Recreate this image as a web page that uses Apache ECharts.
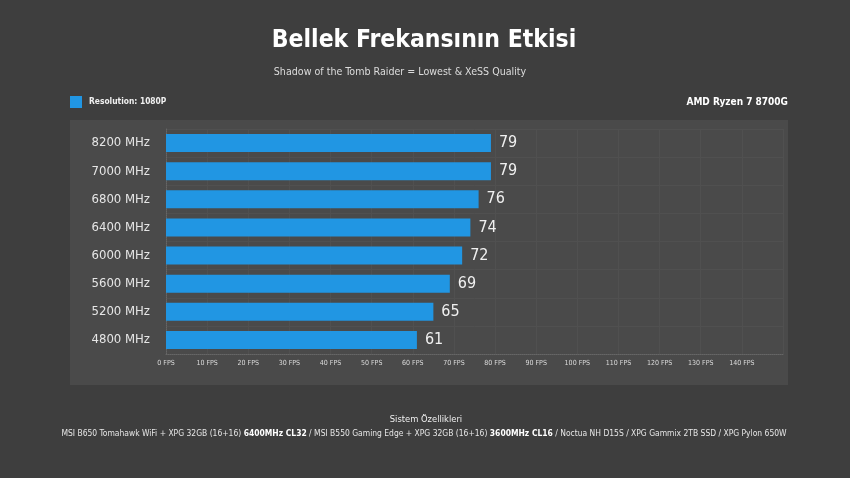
<!DOCTYPE html>
<html><head><meta charset="utf-8">
<script src="https://cdn.jsdelivr.net/npm/echarts@6/dist/echarts.min.js"></script>
<style>html,body{margin:0;padding:0;background:#3d3d3d;}#c{width:850px;height:478px;}</style>
</head><body><div id="c"></div>
<script>
const categories = ['8200 MHz','7000 MHz','6800 MHz','6400 MHz','6000 MHz','5600 MHz','5200 MHz','4800 MHz'];
const fpsValues = [79, 79, 76, 74, 72, 69, 65, 61];
const seriesName = 'Resolution: 1080P';
const titleText = 'Bellek Frekansının Etkisi';
const subtitleText = 'Shadow of the Tomb Raider = Lowest & XeSS Quality';
const cpuText = 'AMD Ryzen 7 8700G';
const specsTitle = 'Sistem Özellikleri';

const NARROW = '"Liberation Sans Narrow","DejaVu Sans Condensed","Roboto",sans-serif';
const chart = echarts.init(document.getElementById('c'));
chart.setOption({
  backgroundColor: '#3e3e3e',
  animation: false,
  graphic: [
    {type:'rect', shape:{x:70,y:120,width:718,height:265}, style:{fill:'#4a4a4a'}, z:-10},
    {type:'rect', shape:{x:70,y:96,width:12,height:12}, style:{fill:'#2196e3'}},
    {type:'text', x:89, y:102, style:{text:seriesName, fill:'#f0f0f0', font:'bold 8.4px '+NARROW, textVerticalAlign:'middle'}},
    {type:'text', x:788, y:102, style:{text:cpuText, fill:'#ffffff', font:'bold 10px '+NARROW, textAlign:'right', textVerticalAlign:'middle'}},
    {type:'text', x:424, y:41, style:{text:titleText, fill:'#ffffff', font:'bold 24.5px '+NARROW, textAlign:'center', textVerticalAlign:'middle'}},
    {type:'text', x:400, y:72, style:{text:subtitleText, fill:'#dcdcdc', font:'10.6px '+NARROW, textAlign:'center', textVerticalAlign:'middle'}},
    {type:'text', x:426, y:420, style:{text:specsTitle, fill:'#f0f0f0', font:'9.3px '+NARROW, textAlign:'center', textVerticalAlign:'middle'}},
    {type:'text', x:424, y:434, style:{
      text:'{n|MSI B650 Tomahawk WiFi + XPG 32GB (16+16) }{b|6400MHz CL32}{n| / MSI B550 Gaming Edge + XPG 32GB (16+16) }{b|3600MHz CL16}{n| / Noctua NH D15S / XPG Gammix 2TB SSD / XPG Pylon 650W}',
      textAlign:'center', textVerticalAlign:'middle',
      rich:{n:{fill:'#e6e6e6', font:'8.45px '+NARROW}, b:{fill:'#ffffff', font:'bold 8.45px '+NARROW}}
    }}
  ],
  grid: {left:166, right:67, top:129, bottom:124, containLabel:false},
  xAxis: {
    type:'value', min:0, max:150, interval:10,
    axisLine:{show:true, lineStyle:{color:'#666666', type:'dotted'}},
    axisTick:{show:false},
    splitLine:{show:true, lineStyle:{color:'#505050', width:1}},
    axisLabel:{showMaxLabel:false, formatter:'{value} FPS', color:'#dcdcdc', fontSize:7, fontFamily:NARROW, margin:6}
  },
  yAxis: {
    type:'category', data:categories, inverse:true,
    axisLine:{show:true, lineStyle:{color:'#666666', type:'dotted'}},
    axisTick:{show:false},
    splitLine:{show:true, lineStyle:{color:'#505050', width:1}},
    axisLabel:{color:'#e6e6e6', fontSize:13, fontFamily:NARROW, margin:16}
  },
  series: [{
    name: seriesName, type:'bar', data: fpsValues, barWidth:18,
    itemStyle:{color:'#2196e3'},
    label:{show:true, position:'right', distance:8, color:'#f0f0f0', fontSize:16, fontFamily:NARROW}
  }]
});
</script></body></html>
